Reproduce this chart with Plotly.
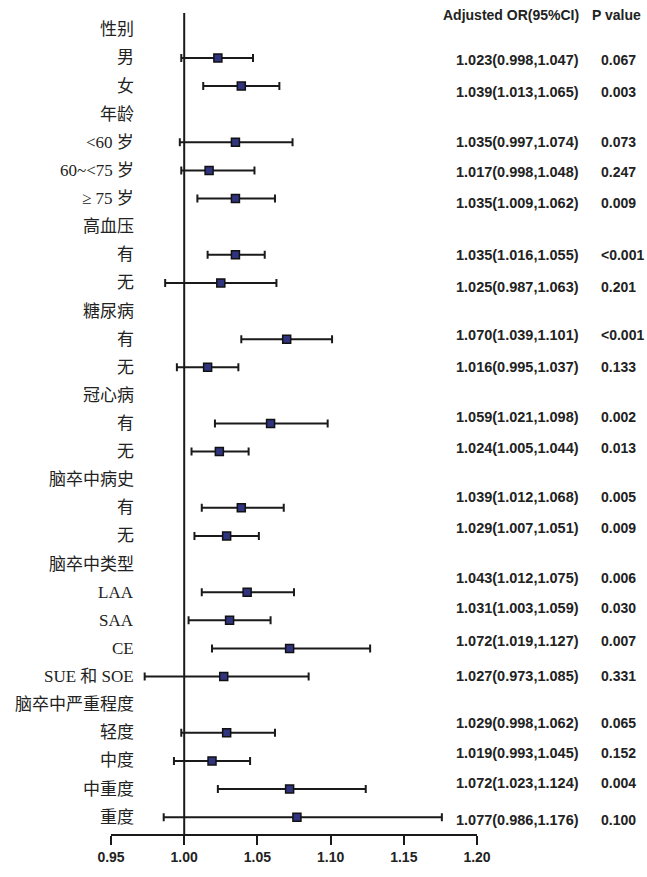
import plotly.graph_objects as go

row_labels = ["性别", "男", "女", "年龄", "<60 岁", "60~<75 岁", "≥ 75 岁",
              "高血压", "有", "无", "糖尿病", "有", "无", "冠心病", "有", "无",
              "脑卒中病史", "有", "无", "脑卒中类型", "LAA", "SAA", "CE", "SUE 和 SOE",
              "脑卒中严重程度", "轻度", "中度", "中重度", "重度"]
or_vals = [None, 1.023, 1.039, None, 1.035, 1.017, 1.035,
           None, 1.035, 1.025, None, 1.070, 1.016, None, 1.059, 1.024,
           None, 1.039, 1.029, None, 1.043, 1.031, 1.072, 1.027,
           None, 1.029, 1.019, 1.072, 1.077]
ci_low = [None, 0.998, 1.013, None, 0.997, 0.998, 1.009,
          None, 1.016, 0.987, None, 1.039, 0.995, None, 1.021, 1.005,
          None, 1.012, 1.007, None, 1.012, 1.003, 1.019, 0.973,
          None, 0.998, 0.993, 1.023, 0.986]
ci_high = [None, 1.047, 1.065, None, 1.074, 1.048, 1.062,
           None, 1.055, 1.063, None, 1.101, 1.037, None, 1.098, 1.044,
           None, 1.068, 1.051, None, 1.075, 1.059, 1.127, 1.085,
           None, 1.062, 1.045, 1.124, 1.176]
p_vals = [None, "0.067", "0.003", None, "0.073", "0.247", "0.009",
          None, "<0.001", "0.201", None, "<0.001", "0.133", None, "0.002", "0.013",
          None, "0.005", "0.009", None, "0.006", "0.030", "0.007", "0.331",
          None, "0.065", "0.152", "0.004", "0.100"]
x_ticks = [0.95, 1.00, 1.05, 1.10, 1.15, 1.20]
x_ticklabels = ["0.95", "1.00", "1.05", "1.10", "1.15", "1.20"]
header_or = "Adjusted OR(95%CI)"
header_p = "P value"

# layout-only: vertical nudges (px) of the right-hand text relative to its row
text_nudge_px = [0, -2, -6, 0, 0, -2, -4, 0, 0, -4, 0, 4, 0, 0, 7, 4,
                 0, 11, 8, 0, 14, 12, 7, 1, 0, 10, 8, 6, -3]

rows = list(range(len(row_labels)))
idx = [i for i in rows if or_vals[i] is not None]
xs = [or_vals[i] for i in idx]
ys = [rows[i] for i in idx]
ep = [ci_high[i] - or_vals[i] for i in idx]
em = [or_vals[i] - ci_low[i] for i in idx]

fig = go.Figure()
fig.add_trace(go.Scatter(
    x=xs, y=ys, mode="markers",
    marker=dict(symbol="square", size=8, color="#30347e",
                line=dict(color="#111111", width=1.5)),
    error_x=dict(type="data", symmetric=False, array=ep, arrayminus=em,
                 color="#1a1a1a", thickness=2, width=4),
    showlegend=False, cliponaxis=False,
))

fig.add_shape(type="line", xref="x", yref="paper", x0=1.0, x1=1.0, y0=0, y1=1,
              line=dict(color="#1a1a1a", width=2), layer="below")

label_font = dict(family="Liberation Serif, Noto Sans CJK SC", size=17, color="#222222")
txt_font = dict(family="Liberation Sans, Arial", size=14.5, color="#222222", weight="bold")
p_font = dict(family="Liberation Sans, Arial", size=14, color="#222222", weight="bold")
hdr_font = dict(family="Liberation Sans, Arial", size=14, color="#222222", weight="bold")

for i in rows:
    fig.add_annotation(x=0.0683, xref="paper", y=rows[i], yref="y",
                       text=row_labels[i], showarrow=False, xanchor="right",
                       yanchor="middle", font=label_font)
    if or_vals[i] is not None:
        t = f"{or_vals[i]:.3f}({ci_low[i]:.3f},{ci_high[i]:.3f})"
        fig.add_annotation(x=0.938, xref="paper", y=rows[i], yref="y", text=t,
                           showarrow=False, xanchor="left", yanchor="middle",
                           yshift=text_nudge_px[i], font=txt_font)
        fig.add_annotation(x=1.333, xref="paper", y=rows[i], yref="y", text=p_vals[i],
                           showarrow=False, xanchor="left", yanchor="middle",
                           yshift=text_nudge_px[i], font=p_font)

fig.add_annotation(x=0.902, xref="paper", y=-0.53, yref="y", text=header_or,
                   showarrow=False, xanchor="left", yanchor="middle", font=hdr_font)
fig.add_annotation(x=1.308, xref="paper", y=-0.53, yref="y", text=header_p,
                   showarrow=False, xanchor="left", yanchor="middle", font=hdr_font)

fig.update_layout(
    width=647, height=877,
    margin=dict(l=111, r=170, t=13, b=32),
    plot_bgcolor="white", paper_bgcolor="white",
    xaxis=dict(range=[0.95, 1.20], tickvals=x_ticks, ticktext=x_ticklabels,
               showgrid=False, zeroline=False, showline=True, linecolor="#1a1a1a",
               linewidth=2, ticks="outside", ticklen=9, tickwidth=2, tickcolor="#1a1a1a",
               tickfont=dict(family="Liberation Sans, Arial", size=14, color="#222222",
                             weight="bold")),
    yaxis=dict(range=[28.6, -0.6], showgrid=False, zeroline=False, showline=False,
               showticklabels=False, ticks=""),
)

fig.write_html("out.html")
